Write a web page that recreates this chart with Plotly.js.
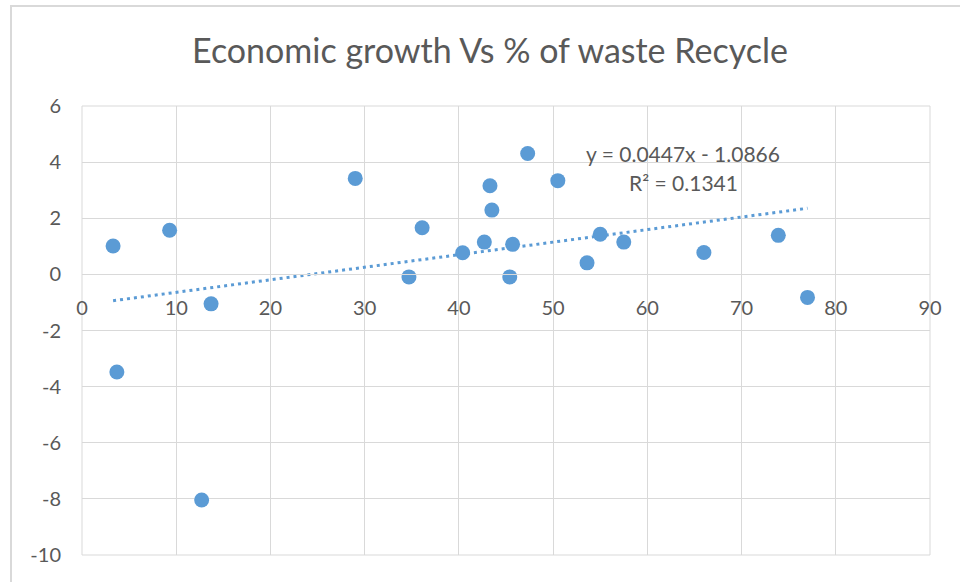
<!DOCTYPE html>
<html>
<head>
<meta charset="utf-8">
<script src="https://cdn.plot.ly/plotly-3.0.1.min.js"></script>
<style>
  html, body { margin: 0; padding: 0; background: #ffffff; overflow: hidden; }
  #frame { position: absolute; left: 10px; top: 5px; width: 980px; height: 600px;
           border-left: 2px solid #d9d9d9; border-top: 2px solid #d9d9d9; }
  #chart { position: absolute; left: 0; top: 0; width: 960px; height: 582px; }
</style>
</head>
<body>
<div id="frame"></div>
<div id="chart"></div>
<script>
// % of waste recycled (x) and economic growth (y)
const recyclePct = [3.3, 9.3, 13.7, 29.0, 34.7, 36.1, 40.4, 42.7, 43.3, 43.5, 45.4,
                    45.7, 47.3, 50.5, 53.6, 55.0, 57.5, 66.0, 73.9, 77.0, 3.7, 12.7];
const growth     = [1.01, 1.57, -1.05, 3.42, -0.09, 1.66, 0.77, 1.15, 3.16, 2.29, -0.09,
                    1.07, 4.31, 3.34, 0.41, 1.43, 1.15, 0.78, 1.39, -0.82, -3.48, -8.04];

// Excel linear trendline as reported on the chart
const trendSlope = 0.0447;
const trendIntercept = -1.0866;
const trendR2 = 0.1341;

const xTicks = [0, 10, 20, 30, 40, 50, 60, 70, 80, 90];
const yTicks = [-10, -8, -6, -4, -2, 0, 2, 4, 6];

const xMin = Math.min(...recyclePct), xMax = Math.max(...recyclePct);
const trendX = [xMin, xMax];
const trendY = trendX.map(v => trendSlope * v + trendIntercept);

const blue = '#5B9BD5';
const grid = '#d9d9d9';
const txt = '#595959';
const FONT = 'Lato, "Open Sans", sans-serif';

const traces = [
  {
    x: trendX, y: trendY, type: 'scatter', mode: 'lines',
    line: { color: blue, width: 3, dash: '3px,4px' },
    hoverinfo: 'skip', showlegend: false
  },
  {
    x: recyclePct, y: growth, type: 'scatter', mode: 'markers',
    marker: { color: blue, size: 15 },
    showlegend: false
  }
];

const layout = {
  width: 960, height: 582,
  margin: { l: 82, r: 30, t: 106, b: 27 },
  paper_bgcolor: 'rgba(0,0,0,0)',
  plot_bgcolor: 'rgba(0,0,0,0)',
  font: { family: FONT, color: txt, size: 20 },
  title: {
    text: 'Economic growth Vs % of waste Recycle',
    font: { family: FONT, size: 34, color: txt },
    x: 490 / 960, xref: 'container', xanchor: 'center',
    y: 1 - 51 / 582, yref: 'container', yanchor: 'middle'
  },
  xaxis: {
    range: [0, 90], tickvals: xTicks, ticktext: xTicks.map(String),
    showgrid: true, gridcolor: grid, gridwidth: 1,
    zeroline: false, showline: true, linecolor: grid, linewidth: 1,
    anchor: 'free', position: 10 / 16,
    ticks: '', ticklabelstandoff: 16,
    tickfont: { family: FONT, size: 20, color: txt },
    fixedrange: true
  },
  yaxis: {
    range: [-10, 6], tickvals: yTicks, ticktext: yTicks.map(String),
    showgrid: true, gridcolor: grid, gridwidth: 1,
    zeroline: false, showline: false,
    ticks: '', ticklabelstandoff: 20,
    tickfont: { family: FONT, size: 20, color: txt },
    fixedrange: true
  },
  shapes: [
    { type: 'rect', xref: 'paper', yref: 'paper', x0: 0, x1: 1, y0: 0, y1: 1,
      line: { color: grid, width: 1 }, layer: 'below' }
  ],
  annotations: [
    { x: 63.8, y: 4.32, xref: 'x', yref: 'y', showarrow: false,
      text: 'y = ' + trendSlope.toFixed(4) + 'x - ' + Math.abs(trendIntercept).toFixed(4),
      font: { family: FONT, size: 21, color: txt }, xanchor: 'center', yanchor: 'middle' },
    { x: 63.8, y: 3.27, xref: 'x', yref: 'y', showarrow: false,
      text: 'R² = ' + trendR2.toFixed(4),
      font: { family: FONT, size: 21, color: txt }, xanchor: 'center', yanchor: 'middle' }
  ]
};

Plotly.newPlot('chart', traces, layout, { staticPlot: true, displayModeBar: false });
</script>
</body>
</html>
